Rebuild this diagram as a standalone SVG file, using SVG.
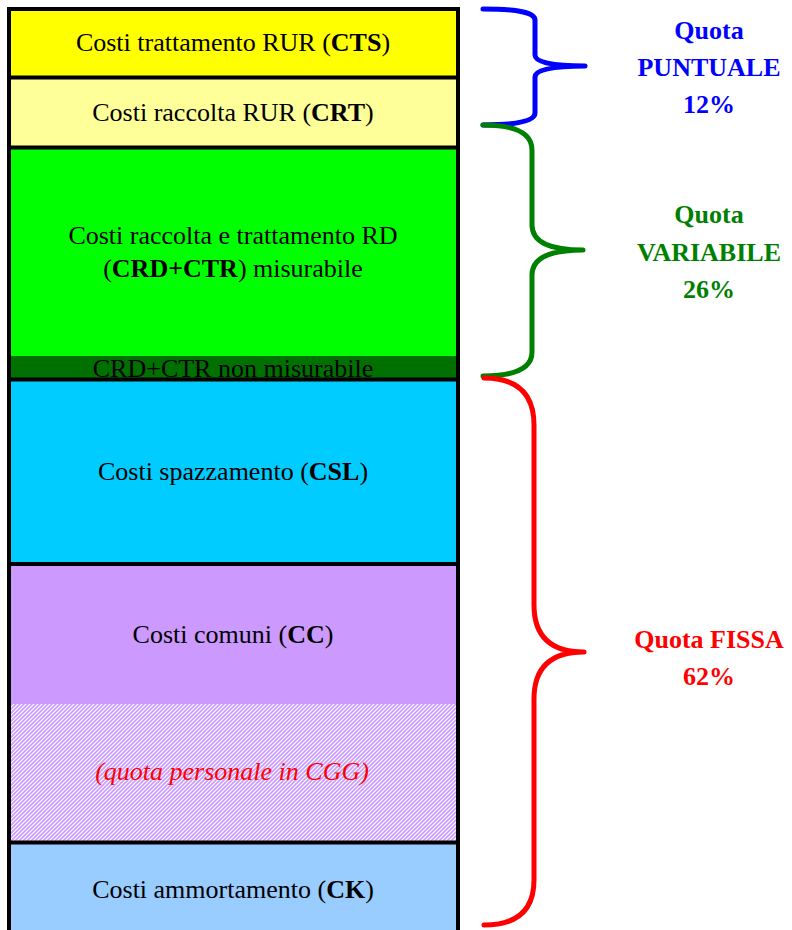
<svg xmlns="http://www.w3.org/2000/svg" width="792" height="930" viewBox="0 0 792 930">
<style>
.t{font-family:"Liberation Serif","Times New Roman",serif;font-size:26px;fill:#000;text-anchor:middle}
.b{font-weight:bold}
.lbl{font-family:"Liberation Serif","Times New Roman",serif;font-size:26px;font-weight:bold;text-anchor:middle}
.div{stroke:#000;stroke-width:4}
.brace{fill:none;stroke-width:5;stroke-linecap:round;stroke-linejoin:round}
</style>
<defs>
<pattern id="hatch" width="4" height="4" patternUnits="userSpaceOnUse">
<rect width="4" height="4" fill="#ffffff"/>
<path d="M-1,1 L1,-1 M0,4 L4,0 M3,5 L5,3" stroke="#cc99ff" stroke-width="1.6"/>
</pattern>
</defs>
<rect width="792" height="930" fill="#ffffff"/>
<g id="cts"><rect x="9" y="9" width="449" height="69" fill="#ffff00"/><text class="t" x="233" y="51">Costi trattamento RUR (<tspan class="b">CTS</tspan>)</text></g>
<g id="crt"><rect x="9" y="78" width="449" height="70" fill="#ffff99"/><text class="t" x="233" y="121">Costi raccolta RUR (<tspan class="b">CRT</tspan>)</text></g>
<g id="crd"><rect x="9" y="148" width="449" height="208" fill="#00ff00"/><text class="t" x="233" y="244">Costi raccolta e trattamento RD</text><text class="t" x="233" y="277">(<tspan class="b">CRD+CTR</tspan>) misurabile</text></g>
<g id="crdnm"><rect x="9" y="356" width="449" height="24" fill="#007000"/><text class="t" x="233" y="377">CRD+CTR non misurabile</text></g>
<g id="csl"><rect x="9" y="380" width="449" height="184" fill="#00ccff"/><text class="t" x="233" y="480">Costi spazzamento (<tspan class="b">CSL</tspan>)</text></g>
<g id="cc"><rect x="9" y="564" width="449" height="140" fill="#cc99ff"/><text class="t" x="233" y="643">Costi comuni (<tspan class="b">CC</tspan>)</text></g>
<g id="cgg"><rect x="9" y="704" width="449" height="139" fill="url(#hatch)"/><text class="t" x="232" y="780" font-style="italic" fill="#ff0000" style="fill:#ff0000">(quota personale in CGG)</text></g>
<g id="ck"><rect x="9" y="843" width="449" height="90" fill="#99ccff"/><text class="t" x="233" y="898">Costi ammortamento (<tspan class="b">CK</tspan>)</text></g>
<g id="frame">
<line class="div" x1="9" y1="77.5" x2="458" y2="77.5"/>
<line class="div" x1="9" y1="147.5" x2="458" y2="147.5"/>
<line class="div" x1="9" y1="379.5" x2="458" y2="379.5"/>
<line class="div" x1="9" y1="564" x2="458" y2="564"/>
<line class="div" x1="9" y1="842.5" x2="458" y2="842.5"/>
<path d="M9,935 L9,9 L458,9 L458,935" fill="none" stroke="#000" stroke-width="4"/>
</g>
<g id="connectors">
<path class="brace" stroke="#0000ff" d="M483,9 Q535,9 535,20 L535,55 Q535,66 585,66 Q535,66 535,77 L535,113 Q535,125 483,125"/>
<path class="brace" stroke="#008000" d="M483,125 Q532,125 532,150 L532,225 Q532,250 583,250 Q532,250 532,275 L532,352 Q532,376 483,376"/>
<path class="brace" stroke="#ff0000" d="M484,378 Q534,378 534,425 L534,605 Q534,652 584,652 Q534,652 534,699 L534,880 Q534,925 484,925"/>
</g>
<g id="puntuale" fill="#0000ff"><text class="lbl" x="709" y="39">Quota</text><text class="lbl" x="709" y="76">PUNTUALE</text><text class="lbl" x="709" y="113">12%</text></g>
<g id="variabile" fill="#008000"><text class="lbl" x="709" y="223">Quota</text><text class="lbl" x="709" y="261">VARIABILE</text><text class="lbl" x="709" y="298">26%</text></g>
<g id="fissa" fill="#ff0000"><text class="lbl" x="709" y="648">Quota FISSA</text><text class="lbl" x="709" y="685">62%</text></g>
</svg>
